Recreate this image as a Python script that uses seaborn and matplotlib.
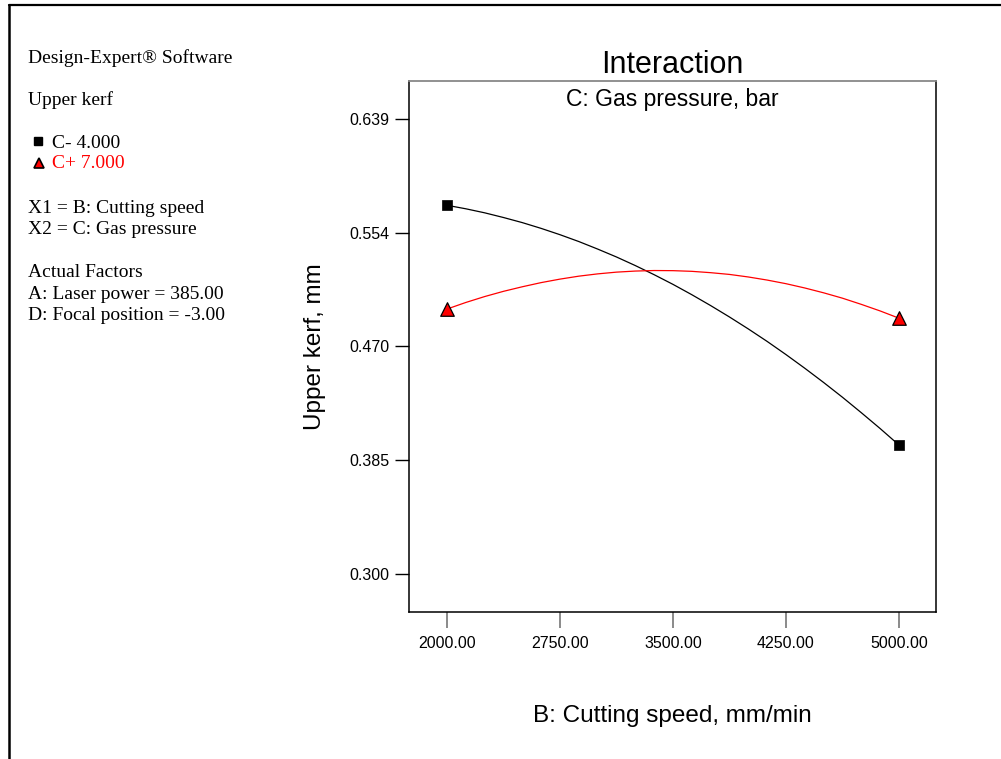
import matplotlib
matplotlib.use("Agg")
import matplotlib.pyplot as plt
from matplotlib.lines import Line2D
import pandas as pd
import seaborn as sns

# Cutting speed grid (mm/min) and predicted upper kerf (mm) at each gas pressure level
cutting_speed = [2000, 2125, 2250, 2375, 2500, 2625, 2750, 2875, 3000, 3125, 3250, 3375,
                 3500, 3625, 3750, 3875, 4000, 4125, 4250, 4375, 4500, 4625, 4750, 4875, 5000]
kerf_low_pressure = [0.5747, 0.5721, 0.5691, 0.5656, 0.5618, 0.5575, 0.5528, 0.5477,
                     0.5421, 0.5362, 0.5298, 0.5230, 0.5158, 0.5081, 0.5000, 0.4915,
                     0.4826, 0.4733, 0.4635, 0.4533, 0.4427, 0.4317, 0.4202, 0.4084,
                     0.3961]
kerf_high_pressure = [0.4974, 0.5023, 0.5067, 0.5106, 0.5140, 0.5171, 0.5197, 0.5219,
                      0.5236, 0.5249, 0.5257, 0.5261, 0.5260, 0.5255, 0.5245, 0.5232,
                      0.5213, 0.5190, 0.5163, 0.5131, 0.5095, 0.5055, 0.5009, 0.4960,
                      0.4906]
series_labels = ["C- 4.000", "C+ 7.000"]
series_colors = ["black", "red"]

y_ticks = [0.300, 0.385, 0.470, 0.554, 0.639]
y_tick_labels = ["0.300", "0.385", "0.470", "0.554", "0.639"]
x_ticks = [2000, 2750, 3500, 4250, 5000]
x_tick_labels = ["2000.00", "2750.00", "3500.00", "4250.00", "5000.00"]

info_lines = [
    ("Design-Expert\u00ae Software", 63),
    ("Upper kerf", 105),
    ("X1 = B: Cutting speed", 213),
    ("X2 = C: Gas pressure", 234),
    ("Actual Factors", 277),
    ("A: Laser power = 385.00", 299),
    ("D: Focal position = -3.00", 320),
]

df = pd.DataFrame({
    "speed": cutting_speed * 2,
    "kerf": kerf_low_pressure + kerf_high_pressure,
    "level": [series_labels[0]] * len(cutting_speed) + [series_labels[1]] * len(cutting_speed),
})
ends = df[df["speed"].isin([cutting_speed[0], cutting_speed[-1]])]

sns.set_theme(style="white")
plt.rcParams["font.family"] = ["Liberation Sans", "DejaVu Sans"]
plt.rcParams["text.color"] = "black"
plt.rcParams["axes.labelcolor"] = "black"

W, H = 1001, 759
fig = plt.figure(figsize=(W / 100, H / 100), dpi=100)
ax = fig.add_axes([409 / W, 1 - 612 / H, (936 - 409) / W, (612 - 81) / H])

palette = dict(zip(series_labels, series_colors))
sns.lineplot(data=df, x="speed", y="kerf", hue="level", palette=palette,
             linewidth=0.9, legend=False, ax=ax)
sns.scatterplot(data=ends[ends["level"] == series_labels[0]], x="speed", y="kerf",
                marker="s", color="black", s=60, edgecolor="black", linewidth=0.5,
                legend=False, ax=ax, zorder=3)
sns.scatterplot(data=ends[ends["level"] == series_labels[1]], x="speed", y="kerf",
                marker="^", color="red", s=95, edgecolor="black", linewidth=0.9,
                legend=False, ax=ax, zorder=3)

ax.set_xlim(1748, 5246)
ax.set_ylim(0.2717, 0.6673)
ax.set_xticks(x_ticks)
ax.set_xticklabels(x_tick_labels)
ax.set_yticks(y_ticks)
ax.set_yticklabels(y_tick_labels)
ax.tick_params(axis="y", direction="out", length=10, width=1, color="black",
               labelcolor="black", labelsize=11.5, pad=4, left=True)
ax.tick_params(axis="x", direction="out", length=11.5, width=1.2, color="#777777",
               labelcolor="black", labelsize=11.5, pad=6, bottom=True)
for side in ["left", "right", "bottom"]:
    ax.spines[side].set_color("black")
    ax.spines[side].set_linewidth(1.1)
ax.spines["top"].set_color("#888888")
ax.spines["top"].set_linewidth(1.3)

ax.set_xlabel("B: Cutting speed, mm/min", fontsize=17.5, labelpad=39, color="black")
ax.set_ylabel("Upper kerf, mm", fontsize=17.5, labelpad=17, color="black")
ax.set_title("Interaction", fontsize=22, pad=6, color="black")
ax.text(0.5, 0.966, "C: Gas pressure, bar", transform=ax.transAxes,
        ha="center", va="center", fontsize=16.5, color="black")

# Side panel with design information
serif = ["Liberation Serif", "DejaVu Serif"]
for txt, yb in info_lines:
    fig.text(28 / W, 1 - yb / H, txt, family=serif, fontsize=14,
             ha="left", va="baseline", color="black")
fig.text(52 / W, 1 - 148 / H, series_labels[0], family=serif, fontsize=14,
         ha="left", va="baseline", color=series_colors[0])
fig.text(52 / W, 1 - 168 / H, series_labels[1], family=serif, fontsize=14,
         ha="left", va="baseline", color=series_colors[1])
fig.add_artist(Line2D([37.5 / W], [1 - 141 / H], marker="s", markersize=6,
                      color="black", transform=fig.transFigure))
fig.add_artist(Line2D([39 / W], [1 - 163 / H], marker="^", markersize=7.5,
                      markerfacecolor="red", markeredgecolor="black",
                      markeredgewidth=1.2, color="red", transform=fig.transFigure))

# Outer frame lines
fig.add_artist(Line2D([8.5 / W, 1.0], [1 - 5 / H, 1 - 5 / H], color="black",
                      linewidth=1.6, transform=fig.transFigure))
fig.add_artist(Line2D([8.5 / W, 8.5 / W], [1 - 5 / H, 0], color="black",
                      linewidth=1.8, transform=fig.transFigure))

fig.savefig("out.png", dpi=100, facecolor="white")
